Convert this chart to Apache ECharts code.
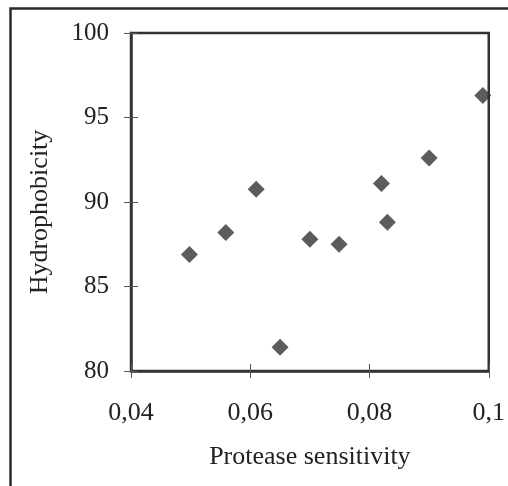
<!DOCTYPE html>
<html>
<head>
<meta charset="utf-8">
<script src="https://cdn.jsdelivr.net/npm/echarts@6/dist/echarts.min.js"></script>
<style>html,body{margin:0;padding:0;background:#fff}#c{width:508px;height:486px}</style>
</head>
<body>
<div id="c"></div>
<script>
var proteaseSensitivity = [0.0498, 0.0559, 0.0610, 0.0650, 0.0700, 0.0749, 0.0820, 0.0830, 0.0900, 0.0990];
var hydrophobicity     = [86.9, 88.2, 90.75, 81.4, 87.8, 87.5, 91.1, 88.8, 92.6, 96.3];
var xTicks = [0.04, 0.06, 0.08, 0.1];
var yTicks = [80, 85, 90, 95, 100];

var points = proteaseSensitivity.map(function (x, i) { return [x, hydrophobicity[i]]; });
var fmtX = function (v) { return String(Math.round(v * 100) / 100).replace('.', ','); };
var font = '"Liberation Serif", "Times New Roman", serif';
var ink = '#333';

var chart = echarts.init(document.getElementById('c'), null, {renderer: 'canvas'});
chart.setOption({
  animation: false,
  backgroundColor: '#fff',
  graphic: [{
    type: 'rect', left: 8, top: 6,
    shape: {width: 520, height: 500},
    style: {fill: 'none', stroke: '#2a2a2a', lineWidth: 2.5}, z: 100
  }],
  grid: {left: 131, top: 33, right: 19, bottom: 115, show: true, borderColor: ink, borderWidth: 2.5, backgroundColor: '#fff'},
  xAxis: [{
    type: 'value', min: xTicks[0], max: xTicks[xTicks.length - 1], interval: 0.02,
    name: 'Protease sensitivity', nameLocation: 'middle', nameGap: 73,
    nameTextStyle: {fontFamily: font, fontSize: 26, color: '#222'},
    axisLine: {show: true, lineStyle: {color: ink, width: 2.5}},
    axisTick: {show: true, inside: false, length: 7, lineStyle: {color: '#555', width: 1}},
    axisLabel: {fontFamily: font, fontSize: 26, color: '#222', margin: 29, formatter: fmtX},
    splitLine: {show: false}
  }, {
    type: 'value', position: 'bottom', min: xTicks[0], max: xTicks[xTicks.length - 1], interval: 0.02,
    axisLine: {show: false},
    axisTick: {show: true, inside: true, length: 7, lineStyle: {color: '#555', width: 1}},
    axisLabel: {show: false}, splitLine: {show: false}
  }],
  yAxis: [{
    type: 'value', min: yTicks[0], max: yTicks[yTicks.length - 1], interval: 5,
    name: 'Hydrophobicity', nameLocation: 'middle', nameGap: 78,
    nameTextStyle: {fontFamily: font, fontSize: 26, color: '#222', padding: [0, 20, 0, 0]},
    axisLine: {show: true, lineStyle: {color: ink, width: 2.5}},
    axisTick: {show: true, inside: false, length: 7, lineStyle: {color: '#555', width: 1}},
    axisLabel: {fontFamily: font, fontSize: 25, color: '#222', margin: 22},
    splitLine: {show: false}
  }, {
    type: 'value', position: 'left', min: yTicks[0], max: yTicks[yTicks.length - 1], interval: 5,
    axisLine: {show: false},
    axisTick: {show: true, inside: true, length: 7, lineStyle: {color: '#555', width: 1}},
    axisLabel: {show: false}, splitLine: {show: false}
  }],
  series: [{
    type: 'scatter', xAxisIndex: 0, yAxisIndex: 0,
    symbol: 'diamond', symbolSize: [17, 17],
    itemStyle: {color: '#333'},
    data: points
  }]
});
</script>
</body>
</html>
